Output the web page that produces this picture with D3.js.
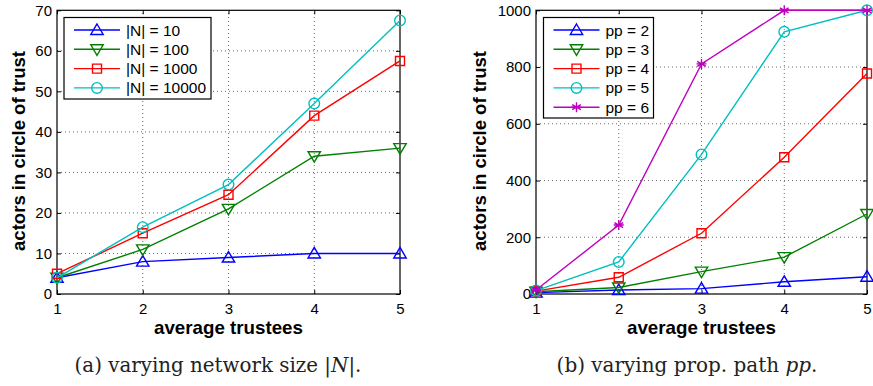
<!DOCTYPE html>
<html><head><meta charset="utf-8">
<script src="https://cdn.jsdelivr.net/npm/d3@7"></script>
<style>body{margin:0;background:#fff}svg{display:block}</style>
</head><body>
<svg id="c" width="873" height="386"></svg>
<script>
const xCats = [1, 2, 3, 4, 5];
const xTicks = [1, 2, 3, 4, 5];

// Panel (a)
const aNames = ["|N| = 10", "|N| = 100", "|N| = 1000", "|N| = 10000"];
const aN10 = [4, 8, 9, 10, 10];
const aN100 = [4, 11, 21, 34, 36];
const aN1000 = [5, 15, 24.5, 44, 57.5];
const aN10000 = [4, 16.5, 27, 47, 67.5];
const aYTicks = [0, 10, 20, 30, 40, 50, 60, 70];

// Panel (b)
const bNames = ["pp = 2", "pp = 3", "pp = 4", "pp = 5", "pp = 6"];
const bPP2 = [5, 14, 19, 43, 61];
const bPP3 = [8, 23, 79, 130, 282];
const bPP4 = [10, 59, 214, 482, 777];
const bPP5 = [12, 113, 492, 924, 1000];
const bPP6 = [14, 243, 811, 1000, 1000];
const bYTicks = [0, 200, 400, 600, 800, 1000];

const colors = ["#0000ff", "#008000", "#ff0000", "#00bfbf", "#bf00bf"];
const markers = ["tri", "tridown", "square", "circle", "star"];
const SANS = "Liberation Sans, Arial, sans-serif";

const svg = d3.select("#c");

function fitFont(sel, base, target) {
  const w = sel.node().getComputedTextLength();
  if (w > 0) sel.attr("font-size", base * target / w);
}

function markerPath(type) {
  const p = d3.path();
  if (type === "tri") {
    p.moveTo(0, -6); p.lineTo(6.2, 4.5); p.lineTo(-6.2, 4.5); p.closePath();
  } else if (type === "tridown") {
    p.moveTo(0, 6); p.lineTo(6.2, -4.5); p.lineTo(-6.2, -4.5); p.closePath();
  } else if (type === "square") {
    p.rect(-4.5, -4.5, 9, 9);
  } else if (type === "circle") {
    p.arc(0, 0, 5.3, 0, 2 * Math.PI); p.closePath();
  } else if (type === "star") {
    const r = 5;
    for (let i = 0; i < 3; i++) {
      const a = Math.PI / 2 + i * Math.PI / 3;
      p.moveTo(r * Math.cos(a), r * Math.sin(a));
      p.lineTo(-r * Math.cos(a), -r * Math.sin(a));
    }
    p.moveTo(-r, 0); p.lineTo(r, 0);
  }
  return p.toString();
}

function panel(cfg) {
  const g = svg.append("g");
  const x = d3.scaleLinear().domain([1, 5]).range([cfg.x0, cfg.x1]);
  const y = d3.scaleLinear().domain([0, cfg.ymax]).range([294, 10.3]);

  // grid
  g.append("g").selectAll("line").data(xTicks.slice(1, -1)).join("line")
    .attr("x1", d => x(d)).attr("x2", d => x(d)).attr("y1", y(0)).attr("y2", y(cfg.ymax))
    .attr("stroke", "#444").attr("stroke-width", 0.8).attr("stroke-dasharray", "1,3");
  g.append("g").selectAll("line").data(cfg.yTicks.slice(1, -1)).join("line")
    .attr("x1", cfg.x0).attr("x2", cfg.x1).attr("y1", d => y(d)).attr("y2", d => y(d))
    .attr("stroke", "#444").attr("stroke-width", 0.8).attr("stroke-dasharray", "1,3");

  // axes with inward ticks
  const ax = g.append("g").attr("transform", `translate(0,${y(0)})`)
    .call(d3.axisBottom(x).tickValues(xTicks).tickFormat(d3.format("d")).tickSizeInner(-4).tickSizeOuter(0).tickPadding(9));
  const ay = g.append("g").attr("transform", `translate(${cfg.x0},0)`)
    .call(d3.axisLeft(y).tickValues(cfg.yTicks).tickFormat(d3.format("d")).tickSizeInner(-4).tickSizeOuter(0).tickPadding(5));
  const axt = g.append("g").attr("transform", `translate(0,${y(cfg.ymax)})`)
    .call(d3.axisTop(x).tickValues(xTicks).tickSizeInner(-4).tickSizeOuter(0).tickFormat(""));
  const ayr = g.append("g").attr("transform", `translate(${cfg.x1},0)`)
    .call(d3.axisRight(y).tickValues(cfg.yTicks).tickSizeInner(-4).tickSizeOuter(0).tickFormat(""));
  [ax, ay, axt, ayr].forEach(a => {
    a.select(".domain").remove();
    a.selectAll("text").attr("font-family", SANS).attr("font-size", 15).attr("fill", "#000");
    a.selectAll("line").attr("stroke", "#000");
  });
  g.append("rect").attr("x", cfg.x0).attr("y", y(cfg.ymax))
    .attr("width", cfg.x1 - cfg.x0).attr("height", y(0) - y(cfg.ymax))
    .attr("fill", "none").attr("stroke", "#000").attr("stroke-width", 1.2);

  // axis labels
  const xl = g.append("text").attr("x", (cfg.x0 + cfg.x1) / 2).attr("y", 334)
    .attr("text-anchor", "middle").attr("font-family", SANS)
    .attr("font-weight", "bold").attr("font-size", 17).text("average trustees");
  fitFont(xl, 17, 149);
  const yl = g.append("text").attr("transform", `translate(${cfg.ylx},151) rotate(-90)`)
    .attr("text-anchor", "middle").attr("font-family", SANS)
    .attr("font-weight", "bold").attr("font-size", 17).text("actors in circle of trust");
  fitFont(yl, 17, 200);

  // series
  const line = d3.line().x((d, i) => x(xCats[i])).y(d => y(d));
  cfg.series.forEach((s, k) => {
    const sg = g.append("g");
    sg.append("path").attr("d", line(s)).attr("fill", "none")
      .attr("stroke", colors[k]).attr("stroke-width", 1.4);
    sg.selectAll("path.m").data(s).join("path").attr("class", "m")
      .attr("transform", (d, i) => `translate(${x(xCats[i])},${y(d)})`)
      .attr("d", markerPath(markers[k])).attr("fill", "none")
      .attr("stroke", colors[k]).attr("stroke-width", 1.4);
  });

  // legend
  const L = cfg.legend;
  const lg = g.append("g");
  lg.append("rect").attr("x", L.x).attr("y", L.y).attr("width", L.w).attr("height", L.h)
    .attr("fill", "#fff").attr("stroke", "#000").attr("stroke-width", 1.2);
  cfg.names.forEach((n, k) => {
    const cy = L.y + 12.5 + k * 19.3;
    lg.append("line").attr("x1", L.x + 10).attr("x2", L.x + 56).attr("y1", cy).attr("y2", cy)
      .attr("stroke", colors[k]).attr("stroke-width", 1.4);
    lg.append("path").attr("transform", `translate(${L.x + 33},${cy})`)
      .attr("d", markerPath(markers[k])).attr("fill", "none")
      .attr("stroke", colors[k]).attr("stroke-width", 1.4);
    lg.append("text").attr("x", L.x + 62).attr("y", cy + 5.5)
      .attr("font-family", SANS).attr("font-size", 15.5).text(n);
  });

  // caption
  const cap = g.append("text").attr("x", cfg.capx).attr("y", 372).attr("text-anchor", "middle")
    .attr("font-family", "DejaVu Serif, serif").attr("font-size", 18).attr("fill", "#222");
  cap.append("tspan").text(cfg.cap[0]);
  cap.append("tspan").attr("font-style", "italic").text(cfg.cap[1]);
  cap.append("tspan").text(cfg.cap[2]);
  fitFont(cap, 18, cfg.capw);
}

panel({
  x0: 57, x1: 400, ymax: 70, yTicks: aYTicks, ylx: 25,
  series: [aN10, aN100, aN1000, aN10000], names: aNames,
  legend: {x: 64, y: 17.5, w: 147, h: 81.5},
  capx: 218, capw: 287, cap: ["(a) varying network size |", "N", "|."]
});
panel({
  x0: 536, x1: 867, ymax: 1000, yTicks: bYTicks, ylx: 486,
  series: [bPP2, bPP3, bPP4, bPP5, bPP6], names: bNames,
  legend: {x: 543.5, y: 17.5, w: 110, h: 100.5},
  capx: 687, capw: 261, cap: ["(b) varying prop. path ", "pp", "."]
});
</script>
</body></html>
